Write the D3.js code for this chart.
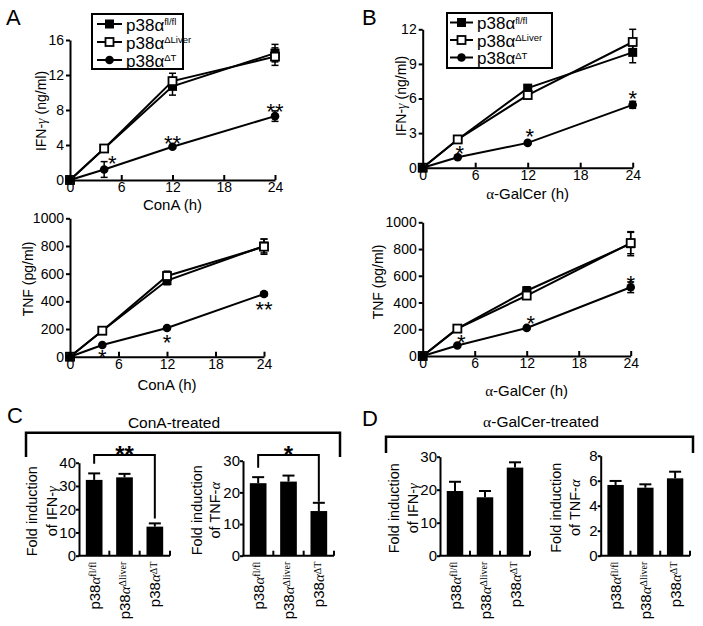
<!DOCTYPE html>
<html><head><meta charset="utf-8">
<script src="https://cdn.jsdelivr.net/npm/d3@7"></script>
<style>
body{margin:0;background:#fff}
svg{display:block}
text{font-family:"Liberation Sans",Arial,sans-serif;fill:#000}
</style>
</head><body>
<svg id="chart" width="703" height="626"></svg>
<script>
// ---------- DATA ----------
const timePoints = [0, 4, 12, 24];
const timeTicks = [0, 6, 12, 18, 24];
const legendSup = ["fl/fl", "ΔLiver", "ΔT"];
const markerTypes = ["filledSquare", "openSquare", "circle"];

// Panel A (ConA) IFN-γ ng/ml
const conaIfnFlfl = [0, 3.6, 10.7, 14.5];
const conaIfnFlflErr = [0, 0.2, 1.0, 1.0];
const conaIfnLiver = [0, 3.6, 11.3, 14.1];
const conaIfnLiverErr = [0, 0.2, 0.9, 1.0];
const conaIfnDT = [0, 1.2, 3.8, 7.3];
const conaIfnDTErr = [0, 0.9, 0.15, 0.6];
const conaIfnStars = ["", "*", "**", "**"];
const conaIfnTicks = [0, 4, 8, 12, 16];

// Panel A (ConA) TNF pg/ml
const conaTnfFlfl = [0, 188, 550, 800];
const conaTnfFlflErr = [0, 10, 30, 50];
const conaTnfLiver = [0, 188, 583, 795];
const conaTnfLiverErr = [0, 10, 35, 55];
const conaTnfDT = [0, 85, 207, 453];
const conaTnfDTErr = [0, 8, 10, 15];
const conaTnfStars = ["", "*", "*", "**"];
const tnfTicks = [0, 200, 400, 600, 800, 1000];

// Panel B (α-GalCer) IFN-γ ng/ml
const galIfnFlfl = [0, 2.45, 6.9, 10.0];
const galIfnFlflErr = [0, 0.15, 0.2, 0.9];
const galIfnLiver = [0, 2.45, 6.3, 10.9];
const galIfnLiverErr = [0, 0.15, 0.2, 1.1];
const galIfnDT = [0, 0.9, 2.15, 5.45];
const galIfnDTErr = [0, 0.1, 0.1, 0.3];
const galIfnStars = ["", "*", "*", "*"];
const galIfnTicks = [0, 3, 6, 9, 12];

// Panel B (α-GalCer) TNF pg/ml
const galTnfFlfl = [0, 205, 488, 840];
const galTnfFlflErr = [0, 10, 30, 90];
const galTnfLiver = [0, 205, 452, 845];
const galTnfLiverErr = [0, 10, 20, 80];
const galTnfDT = [0, 78, 210, 514];
const galTnfDTErr = [0, 8, 10, 40];
const galTnfStars = ["", "*", "*", "*"];

// Panels C / D bar charts
const barGroups = ["fl/fl", "Δliver", "ΔT"];
const conaFoldIfn = [32.6, 33.7, 12.5];
const conaFoldIfnErr = [2.8, 1.5, 1.4];
const conaFoldTnf = [22.9, 23.4, 14.1];
const conaFoldTnfErr = [1.9, 1.9, 2.6];
const galFoldIfn = [19.6, 17.7, 26.7];
const galFoldIfnErr = [2.8, 1.9, 1.6];
const galFoldTnf = [5.66, 5.44, 6.19];
const galFoldTnfErr = [0.32, 0.27, 0.53];

// ---------- DRAW ----------
const svg = d3.select("#chart");
const FONT = '"Liberation Sans",Arial,sans-serif';
const SERIF = '"Liberation Serif","DejaVu Serif",serif';

function addP38(sel, sup, mainSize, supSize, serifParts) {
  sel.append("tspan").text("p38");
  const a = sel.append("tspan").text("α");
  if (serifParts) a.attr("font-style", "italic").attr("font-family", SERIF);
  const rise = 0.716 * (mainSize - supSize);
  const s = sel.append("tspan").attr("font-size", supSize).attr("dy", -rise).text(sup);
  if (serifParts) s.attr("font-family", SERIF);
}

function drawMarker(g, type, x, y) {
  if (type === "filledSquare") {
    g.append("rect").attr("x", x - 4.5).attr("y", y - 4.5).attr("width", 9).attr("height", 9).attr("fill", "#000");
  } else if (type === "openSquare") {
    g.append("rect").attr("x", x - 4).attr("y", y - 4).attr("width", 8).attr("height", 8)
      .attr("fill", "#fff").attr("stroke", "#000").attr("stroke-width", 1.8);
  } else {
    g.append("circle").attr("cx", x).attr("cy", y).attr("r", 4.3).attr("fill", "#000");
  }
}

function lineChart(cfg) {
  const g = svg.append("g");
  const x = d3.scaleLinear().domain([0, 24]).range([cfg.x0, cfg.x1]);
  const y = d3.scaleLinear().domain([0, cfg.max]).range([cfg.y0, cfg.y1]);
  const xAxis = g.append("g").attr("transform", `translate(0,${cfg.y0})`)
    .call(d3.axisBottom(x).tickValues(timeTicks).tickSize(-5).tickPadding(2).tickSizeOuter(0));
  const yAxis = g.append("g").attr("transform", `translate(${cfg.x0},0)`)
    .call(d3.axisLeft(y).tickValues(cfg.ticks).tickFormat(d3.format("d")).tickSize(4).tickPadding(2).tickSizeOuter(0));
  [xAxis, yAxis].forEach(a => {
    a.selectAll("path,line").attr("stroke", "#000").attr("stroke-width", 2);
    a.selectAll("text").attr("font-size", 14).attr("font-family", FONT).attr("fill", "#000");
  });
  const line = d3.line().x((d, i) => x(timePoints[i])).y(d => y(d));
  cfg.series.forEach(s => {
    g.append("path").datum(s.values).attr("d", line).attr("fill", "none")
      .attr("stroke", "#000").attr("stroke-width", 2);
  });
  cfg.series.forEach(s => {
    s.values.forEach((v, i) => {
      const e = s.errors[i];
      if (e > 0) {
        const cx = x(timePoints[i]);
        g.append("line").attr("x1", cx).attr("x2", cx).attr("y1", y(v - e)).attr("y2", y(v + e)).attr("stroke", "#000").attr("stroke-width", 1.5);
        [v - e, v + e].forEach(w => g.append("line").attr("x1", cx - 3.5).attr("x2", cx + 3.5).attr("y1", y(w)).attr("y2", y(w)).attr("stroke", "#000").attr("stroke-width", 1.5));
      }
    });
  });
  cfg.series.forEach(s => {
    s.values.forEach((v, i) => drawMarker(g, s.marker, x(timePoints[i]), y(v)));
  });
  // stars
  const starSeries = cfg.series[2].values;
  cfg.stars.forEach((st, i) => {
    if (!st) return;
    const off = cfg.starOff[i];
    const cy = y(starSeries[i]) + off[1];
    g.append("text").attr("x", x(timePoints[i]) + off[0]).attr("y", cy + 0.58 * 22)
      .attr("text-anchor", "middle").attr("font-size", 22).text(st);
  });
  // titles
  g.append("text").attr("transform", `translate(${cfg.yTitleX},${cfg.yTitleY}) rotate(-90)`)
    .attr("text-anchor", "middle").attr("font-size", 14).call(t => {
      if (cfg.yTitleGreek) {
        t.append("tspan").text("IFN-");
        t.append("tspan").attr("font-family", SERIF).attr("font-style", "italic").text("γ");
        t.append("tspan").text(" " + cfg.yTitle);
      } else t.text(cfg.yTitle);
    });
  g.append("text").attr("x", (cfg.x0 + cfg.x1) / 2).attr("y", cfg.xTitleY)
    .attr("text-anchor", "middle").attr("font-size", 15).call(t => {
      if (cfg.xTitleGreek) {
        t.append("tspan").attr("font-family", SERIF).text("α");
        t.append("tspan").text(cfg.xTitle);
      } else t.text(cfg.xTitle);
    });
  // legend
  if (cfg.legend) {
    const L = cfg.legend;
    g.append("rect").attr("x", L.x).attr("y", L.y).attr("width", L.w).attr("height", L.h)
      .attr("fill", "#fff").attr("stroke", "#000").attr("stroke-width", 2);
    markerTypes.forEach((m, i) => {
      const ry = L.rows[i];
      g.append("line").attr("x1", L.lx0).attr("x2", L.lx1).attr("y1", ry).attr("y2", ry).attr("stroke", "#000").attr("stroke-width", 2);
      drawMarker(g, m, (L.lx0 + L.lx1) / 2, ry);
      g.append("text").attr("x", L.tx).attr("y", ry + 6.5).attr("font-size", 17)
        .call(t => addP38(t, legendSup[i], 17, 9.5, false));
    });
  }
}

lineChart({
  x0: 70, x1: 275, y0: 180, y1: 40, max: 16, ticks: conaIfnTicks,
  series: [
    {values: conaIfnFlfl, errors: conaIfnFlflErr, marker: "filledSquare"},
    {values: conaIfnLiver, errors: conaIfnLiverErr, marker: "openSquare"},
    {values: conaIfnDT, errors: conaIfnDTErr, marker: "circle"}],
  stars: conaIfnStars, starOff: [[0,0],[8,-11],[0,-9],[0,-10]],
  yTitle: "(ng/ml)", yTitleGreek: true, yTitleX: 46, yTitleY: 111,
  xTitle: "ConA (h)", xTitleY: 210,
  legend: {x: 92, y: 14, w: 91, h: 55, rows: [24, 42, 60], lx0: 97, lx1: 122, tx: 126}
});
lineChart({
  x0: 70, x1: 264, y0: 356.7, y1: 218.3, max: 1000, ticks: tnfTicks,
  series: [
    {values: conaTnfFlfl, errors: conaTnfFlflErr, marker: "filledSquare"},
    {values: conaTnfLiver, errors: conaTnfLiverErr, marker: "openSquare"},
    {values: conaTnfDT, errors: conaTnfDTErr, marker: "circle"}],
  stars: conaTnfStars, starOff: [[0,0],[0,7],[0,9],[0,10]],
  yTitle: "TNF (pg/ml)", yTitleX: 33, yTitleY: 279,
  xTitle: "ConA (h)", xTitleY: 390
});
lineChart({
  x0: 422.7, x1: 632.7, y0: 167.7, y1: 29.3, max: 12, ticks: galIfnTicks,
  series: [
    {values: galIfnFlfl, errors: galIfnFlflErr, marker: "filledSquare"},
    {values: galIfnLiver, errors: galIfnLiverErr, marker: "openSquare"},
    {values: galIfnDT, errors: galIfnDTErr, marker: "circle"}],
  stars: galIfnStars, starOff: [[0,0],[2,-9],[2,-12],[0,-12]],
  yTitle: "(ng/ml)", yTitleGreek: true, yTitleX: 406, yTitleY: 96,
  xTitle: "-GalCer (h)", xTitleGreek: true, xTitleY: 199,
  legend: {x: 447, y: 13, w: 105, h: 55, rows: [22.5, 40, 57.5], lx0: 450, lx1: 473, tx: 477}
});
lineChart({
  x0: 422.7, x1: 630.7, y0: 356, y1: 222.3, max: 1000, ticks: tnfTicks,
  series: [
    {values: galTnfFlfl, errors: galTnfFlflErr, marker: "filledSquare"},
    {values: galTnfLiver, errors: galTnfLiverErr, marker: "openSquare"},
    {values: galTnfDT, errors: galTnfDTErr, marker: "circle"}],
  stars: galTnfStars, starOff: [[0,0],[4,-8],[4,-10],[0,-9]],
  yTitle: "TNF (pg/ml)", yTitleX: 383, yTitleY: 282,
  xTitle: "-GalCer (h)", xTitleGreek: true, xTitleY: 396
});

function barChart(cfg) {
  const g = svg.append("g");
  const x = d3.scaleBand().domain(barGroups).range([cfg.x0, cfg.x1]).paddingInner(0.45).paddingOuter(0.225);
  const y = d3.scaleLinear().domain([0, cfg.max]).range([cfg.y0, cfg.y1]);
  const yAxis = g.append("g").attr("transform", `translate(${cfg.x0},0)`)
    .call(d3.axisLeft(y).tickValues(cfg.ticks).tickSize(3).tickPadding(0).tickSizeOuter(0));
  yAxis.selectAll("path,line").attr("stroke", "#000").attr("stroke-width", 2);
  yAxis.selectAll("text").attr("font-size", 15).attr("font-family", FONT).attr("fill", "#000");
  // x axis line with upward ticks at band boundaries
  g.append("line").attr("x1", cfg.x0 - 1).attr("x2", cfg.x1).attr("y1", cfg.y0).attr("y2", cfg.y0).attr("stroke", "#000").attr("stroke-width", 2);
  const step = x.step();
  [1, 2, 3].forEach(k => {
    const bx = cfg.x0 + step * k;
    g.append("line").attr("x1", bx).attr("x2", bx).attr("y1", cfg.y0).attr("y2", cfg.y0 - 5).attr("stroke", "#000").attr("stroke-width", 2);
  });
  cfg.values.forEach((v, i) => {
    const bx = x(barGroups[i]), bw = x.bandwidth(), cx = bx + bw / 2;
    const e = cfg.errors[i];
    g.append("line").attr("x1", cx).attr("x2", cx).attr("y1", y(v)).attr("y2", y(v + e)).attr("stroke", "#000").attr("stroke-width", 2);
    g.append("line").attr("x1", cx - 6).attr("x2", cx + 6).attr("y1", y(v + e)).attr("y2", y(v + e)).attr("stroke", "#000").attr("stroke-width", 2);
    g.append("rect").attr("x", bx).attr("y", y(v)).attr("width", bw).attr("height", cfg.y0 - y(v)).attr("fill", "#000");
    g.append("text").attr("transform", `translate(${cx + 5.5},${cfg.y0 + 6}) rotate(-90)`)
      .attr("text-anchor", "end").attr("font-size", 15).call(t => addP38(t, barGroups[i], 15, 10, true));
  });
  // y title (two lines)
  const cy = (cfg.y0 + cfg.y1) / 2 + 2;
  cfg.titleX.forEach((tx, k) => {
    const t = g.append("text").attr("transform", `translate(${tx},${cy}) rotate(-90)`)
      .attr("text-anchor", "middle").attr("font-size", 14.5);
    if (k === 0) t.text("Fold induction");
    else {
      t.append("tspan").text("of " + cfg.cyto + "-");
      t.append("tspan").attr("font-family", SERIF).attr("font-style", "italic").text(cfg.greek);
    }
  });
  if (cfg.sig) {
    const s = cfg.sig;
    const xa = x(barGroups[0]) + x.bandwidth() / 2, xb = x(barGroups[2]) + x.bandwidth() / 2;
    g.append("path").attr("d", `M${xa},${y(s.leftTo)}V${s.y}H${xb}V${y(s.rightTo)}`)
      .attr("fill", "none").attr("stroke", "#000").attr("stroke-width", 2);
    g.append("text").attr("x", (xa + xb) / 2).attr("y", s.y - 6 + 0.58 * 24).attr("text-anchor", "middle")
      .attr("font-size", 24).attr("font-weight", "bold").text(s.label);
  }
}

barChart({x0: 79, x1: 170, y0: 555.7, y1: 462.7, max: 40, ticks: [0, 10, 20, 30, 40],
  values: conaFoldIfn, errors: conaFoldIfnErr, titleX: [37, 57], cyto: "IFN", greek: "γ",
  sig: {y: 455, leftTo: 39.5, rightTo: 16, label: "**"}});
barChart({x0: 243, x1: 334, y0: 555.7, y1: 460.7, max: 30, ticks: [0, 10, 20, 30],
  values: conaFoldTnf, errors: conaFoldTnfErr, titleX: [202, 220], cyto: "TNF", greek: "α",
  sig: {y: 455, leftTo: 27.8, rightTo: 17, label: "*"}});
barChart({x0: 440, x1: 530, y0: 555.7, y1: 456.7, max: 30, ticks: [0, 10, 20, 30],
  values: galFoldIfn, errors: galFoldIfnErr, titleX: [399, 418], cyto: "IFN", greek: "γ"});
barChart({x0: 600.7, x1: 690, y0: 555.7, y1: 455.7, max: 8, ticks: [0, 2, 4, 6, 8],
  values: galFoldTnf, errors: galFoldTnfErr, titleX: [561, 580], cyto: "TNF", greek: "α"});

// treatment brackets
svg.append("path").attr("d", "M26,457V432.7H340V457").attr("fill", "none").attr("stroke", "#000").attr("stroke-width", 2.5);
svg.append("text").attr("x", 174).attr("y", 428).attr("text-anchor", "middle").attr("font-size", 15.5).text("ConA-treated");
svg.append("path").attr("d", "M386,453V436.7H693V453").attr("fill", "none").attr("stroke", "#000").attr("stroke-width", 2.5);
svg.append("text").attr("x", 541).attr("y", 427).attr("text-anchor", "middle").attr("font-size", 15.5).call(t => {
  t.append("tspan").attr("font-family", SERIF).text("α");
  t.append("tspan").text("-GalCer-treated");
});

// panel letters
[["A", 6, 25], ["B", 362, 25], ["C", 7, 423], ["D", 362, 426]].forEach(([l, lx, ly]) =>
  svg.append("text").attr("x", lx).attr("y", ly).attr("font-size", 22).text(l));
</script>
</body></html>
